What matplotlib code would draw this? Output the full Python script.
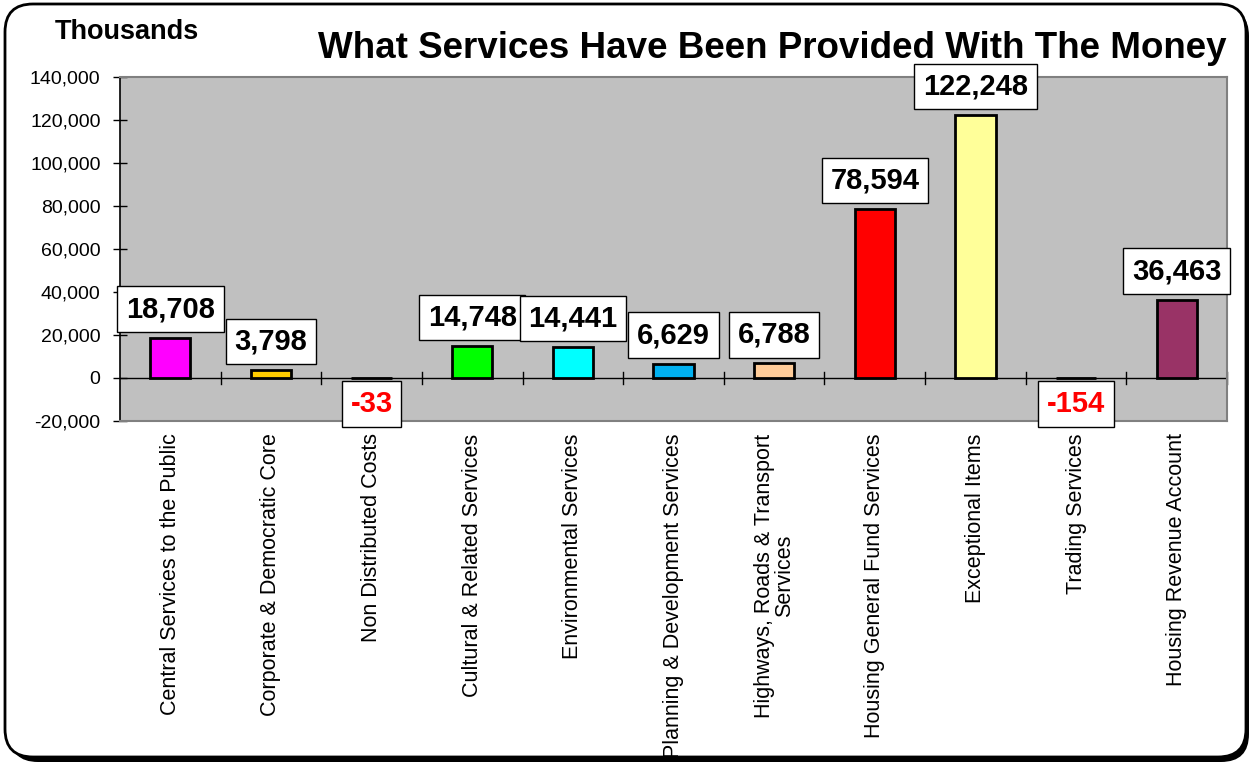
import matplotlib
matplotlib.use("Agg")
import matplotlib.pyplot as plt
from matplotlib.patches import FancyBboxPatch
from matplotlib.transforms import IdentityTransform
from matplotlib.ticker import FuncFormatter, MultipleLocator

plt.rcParams['font.family'] = ['Liberation Sans', 'DejaVu Sans']

categories = [
    "Central Services to the Public",
    "Corporate & Democratic Core",
    "Non Distributed Costs",
    "Cultural & Related Services",
    "Environmental Services",
    "Planning & Development Services",
    "Highways, Roads & Transport\nServices",
    "Housing General Fund Services",
    "Exceptional Items",
    "Trading Services",
    "Housing Revenue Account",
]
values = [18708, 3798, -33, 14748, 14441, 6629, 6788, 78594, 122248, -154, 36463]
colors = ["#FF00FF", "#FFCC00", "#000000", "#00FF00", "#00FFFF", "#00B0F0",
          "#FFCC99", "#FF0000", "#FFFF99", "#000000", "#993366"]

W, H = 1255, 764
fig = plt.figure(figsize=(W / 100, H / 100), dpi=100)

# rounded frame with shadow (pixel coordinates)
shadow = FancyBboxPatch((10, 2), W - 16, H - 10, boxstyle="round,pad=0,rounding_size=28",
                        transform=IdentityTransform(), facecolor="#000000", edgecolor="none", zorder=0)
frame = FancyBboxPatch((5, 7), W - 14, H - 11, boxstyle="round,pad=0,rounding_size=28",
                       transform=IdentityTransform(), facecolor="white", edgecolor="black",
                       linewidth=2, zorder=1)
fig.patches.extend([shadow, frame])

ax = fig.add_axes([120 / W, 1 - 421 / H, (1227 - 120) / W, (421 - 77) / H])
ax.set_facecolor("#C0C0C0")
ax.set_zorder(2)

x = list(range(len(categories)))
ax.bar(x, values, width=0.4, color=colors, edgecolor="black", linewidth=2, zorder=3)

ax.set_xlim(-0.5, len(categories) - 0.5)
ax.set_ylim(-20000, 140000)
ax.yaxis.set_major_locator(MultipleLocator(20000))
ax.yaxis.set_major_formatter(FuncFormatter(lambda v, p: f"{int(v):,}"))
ax.tick_params(axis="y", direction="inout", length=10, width=1, labelsize=14, pad=9)

for s in ["top", "right", "bottom"]:
    ax.spines[s].set_color("#808080")
    ax.spines[s].set_linewidth(1.5)
ax.spines["left"].set_color("black")
ax.spines["left"].set_linewidth(1.2)

ax.set_xticks(x)
ax.set_xticklabels(categories, rotation=90, fontsize=15.5, linespacing=0.95,
                   ha="center", va="top")
ax.tick_params(axis="x", length=0, pad=9)

# zero axis line with category separator ticks
ax.axhline(0, color="black", linewidth=1, zorder=2.5)
for b in range(1, len(categories) + 1):
    ax.plot([b - 0.5, b - 0.5], [-3000, 3000], color="black", linewidth=1, zorder=2.5,
            clip_on=False)

# value labels
for xi, v in zip(x, values):
    neg = v < 0
    ax.annotate(f"{v:,}", xy=(xi, 0 if neg else v),
                xytext=(0, -8.5 if neg else 10.5), textcoords="offset points",
                ha="center", va="top" if neg else "bottom",
                fontsize=21, fontweight="bold", color="#FF0000" if neg else "black",
                bbox=dict(boxstyle="square,pad=0.3", facecolor="white",
                          edgecolor="black", linewidth=1),
                zorder=5, annotation_clip=False)

fig.text(55 / W, 1 - 32 / H, "Thousands", fontsize=19.5, fontweight="bold",
         ha="left", va="center", zorder=3)
fig.text(1227 / W, 1 - 48 / H, "What Services Have Been Provided With The Money",
         fontsize=26.5, fontweight="bold", ha="right", va="center", zorder=3)

fig.savefig("out.png", dpi=100)
